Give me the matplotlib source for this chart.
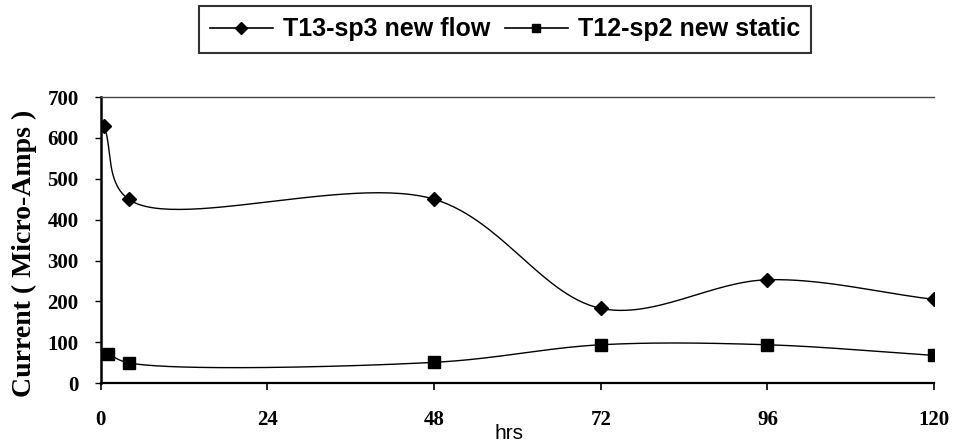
import numpy as np
import matplotlib.pyplot as plt

hours_flow = [0.5, 4, 48, 72, 96, 120]
current_flow = [630, 450, 450, 183, 253, 205]
hours_static = [1, 4, 48, 72, 96, 120]
current_static = [72, 50, 51, 94, 94, 68]
x_ticks = [0, 24, 48, 72, 96, 120]
y_ticks = [0, 100, 200, 300, 400, 500, 600, 700]

# rough pixels per data unit, so the smoothing works in screen space
SX, SY = 833 / 120, 286 / 700


def smooth(xs, ys, n=60, alpha=0.5):
    # centripetal Catmull-Rom through the points (screen-space)
    P = np.column_stack([np.asarray(xs, float) * SX, np.asarray(ys, float) * SY])
    P = np.vstack([2 * P[0] - P[1], P, 2 * P[-1] - P[-2]])
    pts = []
    for i in range(1, len(P) - 2):
        p0, p1, p2, p3 = P[i - 1], P[i], P[i + 1], P[i + 2]
        t0 = 0.0
        t1 = t0 + np.linalg.norm(p1 - p0) ** alpha
        t2 = t1 + np.linalg.norm(p2 - p1) ** alpha
        t3 = t2 + np.linalg.norm(p3 - p2) ** alpha
        t = np.linspace(t1, t2, n)[:, None]
        a1 = (t1 - t) / (t1 - t0) * p0 + (t - t0) / (t1 - t0) * p1
        a2 = (t2 - t) / (t2 - t1) * p1 + (t - t1) / (t2 - t1) * p2
        a3 = (t3 - t) / (t3 - t2) * p2 + (t - t2) / (t3 - t2) * p3
        b1 = (t2 - t) / (t2 - t0) * a1 + (t - t0) / (t2 - t0) * a2
        b2 = (t3 - t) / (t3 - t1) * a2 + (t - t1) / (t3 - t1) * a3
        c = (t2 - t) / (t2 - t1) * b1 + (t - t1) / (t2 - t1) * b2
        pts.append(c)
    pts = np.vstack(pts)
    return pts[:, 0] / SX, pts[:, 1] / SY


fig = plt.figure(figsize=(9.6, 4.43), dpi=100)
ax = fig.add_axes([0.105, 0.135, 0.868, 0.646])

sx, sy = smooth(hours_flow, current_flow)
ax.plot(sx, sy, color='black', lw=1.0)
ax.plot(hours_flow, current_flow, 'D', color='black', ms=7, ls='none')
sx, sy = smooth(hours_static, current_static)
ax.plot(sx, sy, color='black', lw=1.0)
ax.plot(hours_static, current_static, 's', color='black', ms=8, ls='none')

# legend proxies
ax.plot([], [], color='black', lw=1.2, marker='D', ms=6,
        label='T13-sp3 new flow')
ax.plot([], [], color='black', lw=1.2, marker='s', ms=6,
        label='T12-sp2 new static')

ax.set_xlim(0, 120)
ax.set_ylim(0, 700)
ax.set_xticks(x_ticks)
ax.set_yticks(y_ticks)
for lab in ax.get_xticklabels() + ax.get_yticklabels():
    lab.set_fontfamily('Liberation Serif')
    lab.set_fontweight('bold')
    lab.set_fontsize(15)
ax.tick_params(axis='x', direction='out', length=5, width=1.2, pad=14)
ax.tick_params(axis='y', direction='out', length=4, width=1.0, pad=12)

ax.spines['right'].set_visible(False)
ax.spines['top'].set_color('#444444')
ax.spines['top'].set_linewidth(1.0)
ax.spines['left'].set_linewidth(1.8)
ax.spines['bottom'].set_linewidth(1.6)

ax.set_ylabel('Current ( Micro-Amps )', fontfamily='Liberation Serif',
              fontweight='bold', fontsize=20)
ax.yaxis.set_label_coords(-0.077, 0.455)
fig.text(0.530, 0.0, 'hrs', fontfamily='Liberation Sans', fontsize=15,
         ha='center', va='bottom')

leg = fig.legend(loc='upper center', bbox_to_anchor=(0.526, 0.986), ncol=2,
                 frameon=True, fancybox=False, edgecolor='black',
                 handlelength=2.5, handletextpad=0.4, columnspacing=0.6,
                 borderpad=0.45, borderaxespad=0.0,
                 prop={'family': 'Liberation Sans', 'weight': 'bold',
                       'size': 18})
leg.get_frame().set_linewidth(1.5)

fig.savefig('out.png', dpi=100)
